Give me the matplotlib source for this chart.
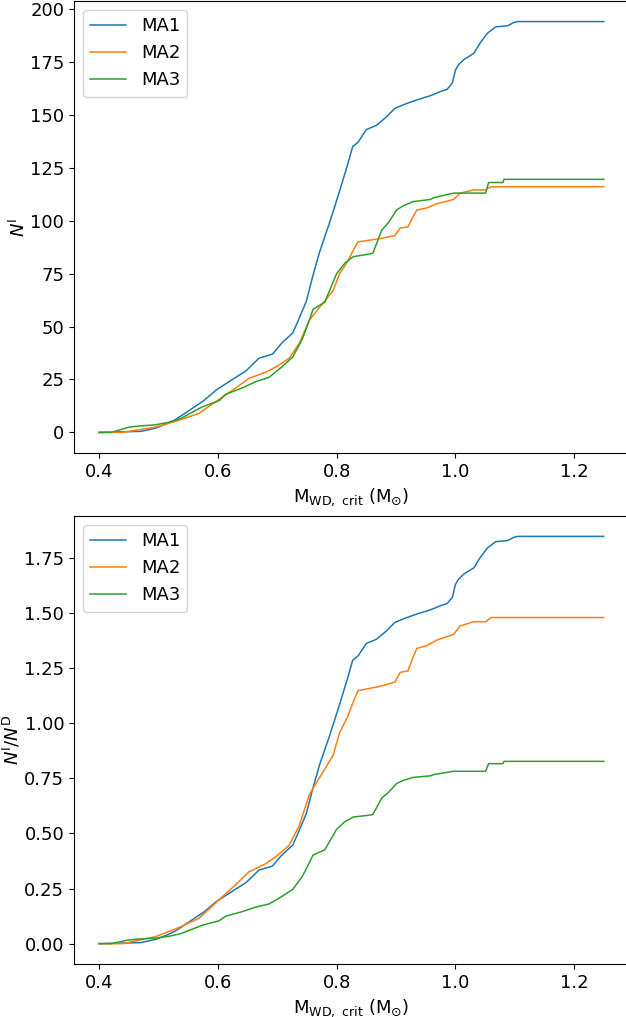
import matplotlib.pyplot as plt

# cumulative counts
ma1_x = [0.40, 0.47, 0.495, 0.513, 0.528, 0.539, 0.576, 0.597, 0.630, 0.647, 0.669,
         0.692, 0.707, 0.726, 0.734, 0.749, 0.759, 0.771, 0.788, 0.805, 0.819, 0.827,
         0.836, 0.850, 0.867, 0.884, 0.898, 0.915, 0.935, 0.958, 0.975, 0.986, 0.995,
         1.000, 1.005, 1.014, 1.031, 1.042, 1.054, 1.068, 1.088, 1.098, 1.105, 1.25]
ma1_n = [0, 0.5, 2, 4, 6, 8, 15, 20, 26, 29, 35,
         37, 42, 47, 52, 62, 73, 85, 99, 114, 127, 135,
         137, 143, 145, 149, 153, 155, 157, 159, 161, 162, 165,
         171, 173.5, 176, 179, 184, 188.5, 191.5, 192, 193.5, 194, 194]

ma2_x = [0.40, 0.44, 0.461, 0.495, 0.534, 0.568, 0.607, 0.630, 0.652, 0.681, 0.698,
         0.720, 0.737, 0.754, 0.771, 0.794, 0.805, 0.819, 0.828, 0.836, 0.873, 0.898,
         0.907, 0.920, 0.929, 0.935, 0.952, 0.969, 0.997, 1.008, 1.031, 1.051, 1.060, 1.25]
ma2_n = [0, 0, 1, 2.5, 5.7, 9, 16.6, 21, 25.5, 28.5, 31,
         35, 42, 53, 59, 67, 75, 81, 86, 90, 91.5, 93,
         96.5, 97, 102, 105, 106, 108, 110, 113, 114.5, 114.5, 116, 116]

ma3_x = [0.40, 0.42, 0.432, 0.449, 0.466, 0.495, 0.517, 0.537, 0.573, 0.602, 0.613,
         0.641, 0.664, 0.686, 0.708, 0.726, 0.742, 0.754, 0.760, 0.771, 0.780, 0.800,
         0.814, 0.828, 0.850, 0.861, 0.867, 0.876, 0.887, 0.901, 0.912, 0.929, 0.958,
         0.963, 0.997, 1.051, 1.056, 1.080, 1.082, 1.25]
ma3_n = [0, 0, 1, 2.4, 3, 3.6, 4.8, 6.5, 12, 15, 18,
         21, 24, 26, 31, 35.6, 44, 53, 58, 60, 61.5, 75,
         80, 83, 84, 84.6, 89, 95.5, 99, 105, 107, 109, 110,
         110.8, 113, 113, 118, 118, 119.5, 119.5]

labels = ["MA1", "MA2", "MA3"]
n_d = [105, 78.4, 144.5]  # normalisation

series = [(ma1_x, ma1_n), (ma2_x, ma2_n), (ma3_x, ma3_n)]
colors = ["tab:blue", "tab:orange", "tab:green"]

plt.rcParams["font.size"] = 13
xlabel = r"M$_{\mathrm{WD,\ crit}}$ (M$_{\odot}$)"

fig = plt.figure(figsize=(6.26, 10.17), dpi=100)
ax1 = fig.add_axes([0.1182, 0.5546, 0.8866, 0.4444])
ax2 = fig.add_axes([0.1182, 0.0521, 0.8866, 0.4405])

for (x, n), lab, c, d in zip(series, labels, colors, n_d):
    ax1.plot(x, n, color=c, lw=1.1, label=lab)
    ax2.plot(x, [v / d for v in n], color=c, lw=1.1, label=lab)

ax1.set_ylabel(r"$N^{\mathrm{I}}$", labelpad=1)
ax1.set_xlabel(xlabel)
ax1.set_yticks([0, 25, 50, 75, 100, 125, 150, 175, 200])
ax1.legend(loc="upper left")

ax2.set_ylabel(r"$N^{\mathrm{I}}/N^{\mathrm{D}}$", labelpad=1)
ax2.set_xlabel(xlabel)
ax2.set_yticks([0, 0.25, 0.5, 0.75, 1.0, 1.25, 1.5, 1.75])
ax2.set_yticklabels(["0.00", "0.25", "0.50", "0.75", "1.00", "1.25", "1.50", "1.75"])
ax2.legend(loc="upper left")

fig.savefig("out.png")
